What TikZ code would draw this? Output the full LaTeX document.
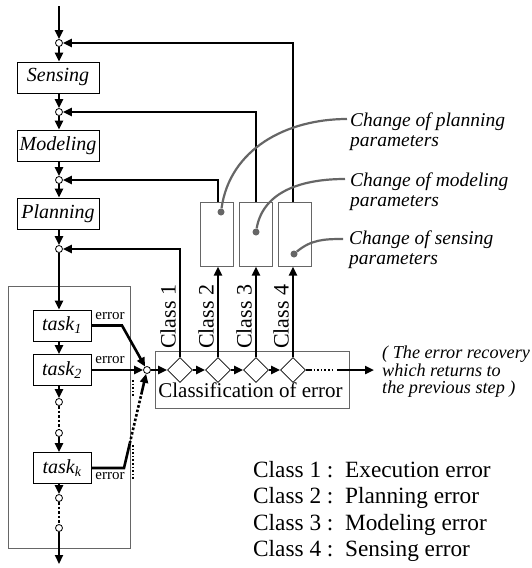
\documentclass[tikz,border=0pt]{standalone}
\usepackage{fontspec}
\setmainfont{Liberation Serif}
\usepackage{tikz}
\usetikzlibrary{arrows.meta,shapes.geometric,calc}

\begin{document}
\begin{tikzpicture}[x=1pt, y=-1pt,
	flow/.style={line width=2.6pt, -{Triangle[length=9pt,width=8pt]}},
	thk/.style={line width=2.6pt},
	jn/.style={circle, draw, fill=white, line width=.8pt, inner sep=0pt, minimum size=7pt},
	stepbox/.style={draw, line width=.9pt, fill=white, minimum width=82pt, minimum height=31pt, inner sep=0pt, font=\fontsize{20}{24}\selectfont\itshape},
	taskbox/.style={stepbox, minimum width=58pt},
	parbox/.style={draw=black!60, line width=1pt, fill=white, minimum width=33pt, minimum height=64pt, inner sep=0pt},
	grpbox/.style={draw=black!60, line width=1pt},
	dia/.style={diamond, draw, fill=white, line width=.8pt, inner sep=0pt, minimum size=25pt},
	lead/.style={draw=black!60, line width=2.2pt},
	gdot/.style={circle, fill=black!60, inner sep=0pt, minimum size=7pt},
	errlab/.style={font=\fontsize{15}{18}\selectfont, inner sep=0pt, anchor=base},
	parlab/.style={anchor=north west, align=left, inner sep=0pt, font=\fontsize{19.5}{19.5}\selectfont\itshape}
	]
	\useasboundingbox (0,0) rectangle (531,568);
	\draw[grpbox] (8,286) rectangle (130,548);
	\node[grpbox, minimum width=194pt, minimum height=57pt, inner sep=0pt] (cls) at (252,379.5) {};
	\foreach \n/\y in {1/43,2/112,3/180,4/249,5/402,6/433,7/498,8/528}
		\node[jn] (j\n) at (59,\y) {};
	\node[stepbox] (sens) at (58,77.5) {Sensing};
	\node[stepbox] (model) at (58,145.5) {Modeling};
	\node[stepbox] (plan) at (58,213.5) {Planning};
	\node[taskbox] (t1) at (62,325.5) {task\textsubscript{1}};
	\node[taskbox] (t2) at (62,370) {task\textsubscript{2}};
	\node[taskbox] (tk) at (62,468) {task\textsubscript{k}};
	\coordinate (top) at (59,6);
	\coordinate (bot) at (59,564);
	\draw[flow] (top) -- (j1);
	\draw[flow] (j1) -- (j1 |- sens.north);
	\draw[flow] (sens.south -| j1) -- (j2);
	\draw[flow] (j2) -- (j2 |- model.north);
	\draw[flow] (model.south -| j2) -- (j3);
	\draw[flow] (j3) -- (j3 |- plan.north);
	\draw[flow] (plan.south -| j3) -- (j4);
	\draw[flow] (j4) -- (j4 |- t1.north);
	\draw[flow] (t1.south -| j4) -- (j4 |- t2.north);
	\draw[flow] (t2.south -| j4) -- (j5);
	\draw[thk, dotted] (j5) -- (j6);
	\draw[flow] (j6) -- (j6 |- tk.north);
	\draw[flow] (tk.south -| j6) -- (j7);
	\draw[thk, dotted] (j7) -- (j8);
	\draw[flow] (j8) -- (bot);
	\node[jn] (mg) at (147,370) {};
	\foreach \i/\x in {1/180,2/218,3/256,4/293}
		\node[dia] (d\i) at (\x,370) {};
	\draw[flow] (mg) -- (d1);
	\foreach \a/\b in {1/2,2/3,3/4}
		\draw[flow] (d\a) -- (d\b);
	\coordinate (dk1) at (310,370);
	\coordinate (dk2) at (333,370);
	\coordinate (rec) at (337,370);
	\coordinate (recend) at (374,370);
	\draw[thk] (d4.east) -- (dk1);
	\draw[line width=1.6pt, dotted] (dk1) -- (dk2);
	\draw[flow] (rec) -- (recend);
	\node[parbox] (p1) at (216.5,234) {};
	\node[parbox] (p2) at (256,234) {};
	\node[parbox] (p3) at (295,234) {};
	\draw[flow] (d1.north) |- (j4);
	\draw[flow] (d2.north) -- (d2 |- p1.south);
	\draw[flow] (d3.north) -- (d3 |- p2.south);
	\draw[flow] (d4.north) -- (d4 |- p3.south);
	\draw[flow] (d2 |- p1.north) |- (j3);
	\draw[flow] (d3 |- p2.north) |- (j2);
	\draw[flow] (d4 |- p3.north) |- (j1);
	\foreach \i in {1,...,4}
		\node[rotate=90, anchor=south west, inner sep=0pt, font=\fontsize{22}{24}\selectfont] (c\i) at ([xshift=-4pt,yshift=8pt]d\i.north) {Class \i};
	\node[gdot] (g1) at (221,212) {};
	\node[gdot] (g2) at (256,232) {};
	\node[gdot] (g3) at (294,254) {};
	\node[parlab] (l1) at (350,113) {Change of planning\\parameters};
	\node[parlab] (l2) at (350,173) {Change of modeling\\parameters};
	\node[parlab] (l3) at (349,231) {Change of sensing\\parameters};
	\draw[lead] (g1) to[out=82,in=180] ([shift={(-3,6)}]l1.north west);
	\draw[lead] (g2) to[out=80,in=180] ([shift={(-5,6)}]l2.north west);
	\draw[lead] (g3) to[out=40,in=180] ([shift={(-6,8)}]l3.north west);
	\coordinate (e1) at (122,325.5);
	\draw[flow] (t1.east) -- (e1) -- (mg);
	\draw[flow] (t2.east) -- (mg);
	\coordinate (ek0) at (124,468);
	\coordinate (ek1) at ($(ek0)!.25!(mg)$);
	\coordinate (ek2) at ($(ek0)!.75!(mg)$);
	\draw[thk] (tk.east) -- (ek0) -- (ek1);
	\draw[thk, dotted] (ek1) -- (ek2);
	\draw[flow] (ek2) -- (mg);
	\draw[line width=1.6pt, dotted] (133,380) -- (133,397);
	\draw[line width=1.6pt, dotted] (133,445) -- (133,480);
	\node[errlab] (er1) at (110,319) {error};
	\node[errlab] (er2) at (110,363) {error};
	\node[errlab] (erk) at (110,479) {error};
	\node[anchor=base, inner sep=0pt, font=\fontsize{21}{24}\selectfont] (clstxt) at (250.5,397) {Classification of error};
	\node[anchor=north west, align=left, inner sep=0pt, font=\fontsize{18.2}{17.5}\selectfont\itshape] (rtxt) at (382,346) {( The error recovery\\which returns to\\the previous step )};
	\node[anchor=north west, align=left, inner sep=0pt, font=\fontsize{23.3}{26.5}\selectfont] (leg) at (253,461) {Class 1 :\ \ Execution error\\Class 2 :\ \ Planning error\\Class 3 :\ \ Modeling error\\Class 4 :\ \ Sensing error};
\end{tikzpicture}
\end{document}
